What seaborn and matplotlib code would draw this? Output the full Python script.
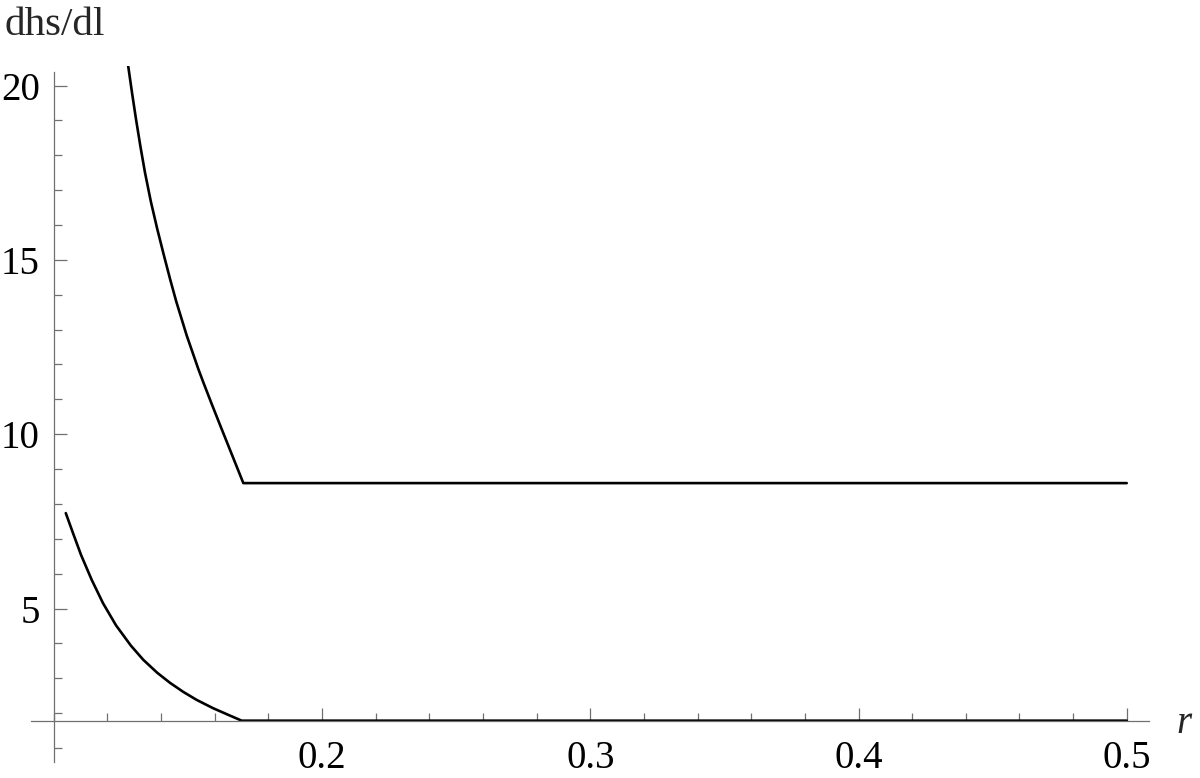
import matplotlib
matplotlib.use("Agg")
import matplotlib.pyplot as plt
from matplotlib.ticker import FixedLocator, MultipleLocator
import seaborn as sns

# values (r, dhs/dl)
r_upper = [0.12774, 0.12916, 0.13065, 0.13229, 0.13400, 0.13617, 0.13855,
           0.14109, 0.14340, 0.14564, 0.14955, 0.15388, 0.15582, 0.15887,
           0.16208, 0.16644, 0.17066, 0.5]
dhs_upper = [20.557, 19.793, 19.033, 18.254, 17.502, 16.677, 15.892,
             15.117, 14.436, 13.809, 12.831, 11.870, 11.472, 10.868,
             10.245, 9.408, 8.598, 8.598]

r_lower = [0.10447, 0.10716, 0.11014, 0.11413, 0.11834, 0.12319, 0.12871,
           0.13337, 0.13855, 0.14333, 0.14828, 0.15328, 0.15947, 0.16570,
           0.17006, 0.5]
dhs_lower = [7.738, 7.164, 6.541, 5.824, 5.155, 4.520, 3.940,
             3.530, 3.160, 2.870, 2.610, 2.380, 2.140, 1.930,
             1.785, 1.785]

x_major = [0.2, 0.3, 0.4, 0.5]
x_labels = ["0.2", "0.3", "0.4", "0.5"]
y_major = [5, 10, 15, 20]
y_labels = ["5", "10", "15", "20"]

sns.set_style("ticks")
plt.rcParams["font.family"] = ["Liberation Serif", "DejaVu Serif"]

fig = plt.figure(figsize=(12, 7.78), dpi=100)
ax = fig.add_axes([31 / 1200, 1 - 762 / 778, 1118 / 1200, 696 / 778])

sns.lineplot(x=r_upper, y=dhs_upper, ax=ax, color="black", lw=1.9, sort=False)
sns.lineplot(x=r_lower, y=dhs_lower, ax=ax, color="black", lw=1.9, sort=False)

ax.set_xlim(0.0915, 0.5083)
ax.set_ylim(0.6, 20.56)

# Mathematica-style crossing axes
ax.spines["left"].set_position(("data", 0.1))
ax.spines["bottom"].set_position(("data", 1.785))
ax.spines["left"].set_bounds(0.6, 20.4)
ax.spines["top"].set_visible(False)
ax.spines["right"].set_visible(False)
for s in ["left", "bottom"]:
    ax.spines[s].set_color("#707070")
    ax.spines[s].set_linewidth(0.9)

ax.xaxis.set_major_locator(FixedLocator(x_major))
ax.set_xticklabels(x_labels)
ax.yaxis.set_major_locator(FixedLocator(y_major))
ax.set_yticklabels(y_labels)
ax.xaxis.set_minor_locator(MultipleLocator(0.02))
ax.yaxis.set_minor_locator(MultipleLocator(1))

ax.tick_params(which="major", direction="in", length=9.5, width=0.9,
               color="#707070", labelsize=28, labelcolor="black")
ax.tick_params(which="minor", direction="in", length=5.5, width=0.9,
               color="#707070")
ax.tick_params(axis="x", which="major", pad=14)
ax.tick_params(axis="y", which="major", pad=10)

ax.set_xlabel("")
ax.set_ylabel("")

fig.text(5 / 1200, 1 - 35 / 778, "dhs/dl", fontsize=29.5, ha="left", va="baseline")
fig.text(1176 / 1200, 1 - 733 / 778, "r", fontsize=28, style="italic",
         ha="left", va="baseline")

fig.savefig("out.png", dpi=100)
